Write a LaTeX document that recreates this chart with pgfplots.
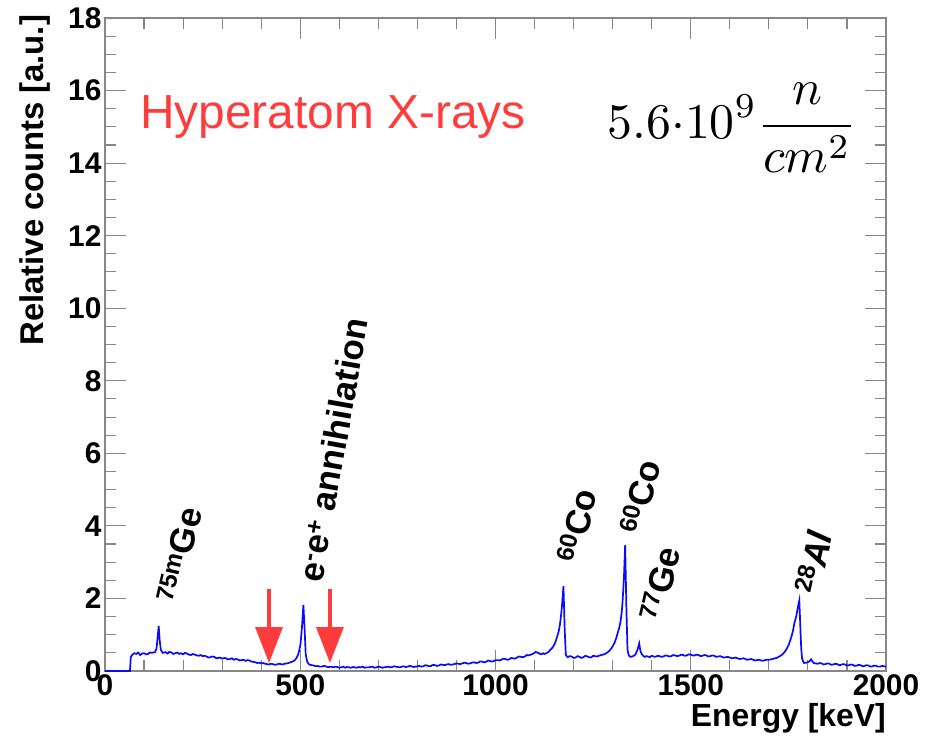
\documentclass[border=0pt]{standalone}
\usepackage{fontspec}
\setmainfont{Liberation Sans}
\usepackage{pgfplots}
\pgfplotsset{compat=1.18}
\usetikzlibrary{arrows.meta}
\definecolor{spec}{RGB}{10,10,255}
\definecolor{hyred}{RGB}{255,60,60}
\definecolor{frame}{RGB}{135,135,135}

\pgfplotstableread{
E y
0 0
64 0
66 0.38
70 0.45
75 0.49
80 0.47
85 0.51
90 0.44
95 0.48
100 0.49
105 0.46
110 0.47
115 0.51
120 0.50
128 0.52
132 0.62
135 0.95
137.5 1.24
140 0.85
143 0.58
148 0.50
155 0.52
160 0.48
165 0.53
170 0.51
175 0.47
180 0.49
185 0.51
190 0.47
195 0.49
200 0.46
205 0.50
210 0.48
215 0.45
220 0.44
225 0.47
230 0.45
235 0.43
240 0.42
245 0.44
250 0.41
255 0.42
260 0.40
265 0.37
270 0.38
275 0.40
280 0.39
285 0.35
290 0.36
295 0.37
300 0.34
305 0.36
310 0.35
315 0.32
320 0.33
325 0.35
330 0.31
335 0.33
340 0.32
345 0.29
350 0.30
355 0.31
360 0.28
365 0.30
370 0.29
375 0.26
380 0.25
385 0.24
390 0.22
395 0.23
400 0.21
405 0.22
410 0.20
415 0.19
420 0.18
425 0.20
430 0.19
435 0.17
440 0.18
445 0.20
450 0.19
455 0.18
460 0.20
465 0.21
470 0.22
475 0.24
480 0.26
485 0.29
490 0.35
494 0.44
497 0.55
500 0.70
502 0.90
505 1.30
508 1.82
511 1.20
514 0.45
518 0.25
522 0.19
525 0.17
530 0.16
535 0.15
540 0.13
545 0.14
550 0.12
555 0.12
560 0.14
565 0.13
570 0.11
575 0.11
580 0.12
585 0.10
590 0.12
595 0.11
600 0.09
605 0.10
610 0.12
615 0.09
620 0.11
625 0.10
630 0.09
635 0.11
640 0.10
645 0.09
650 0.11
655 0.10
660 0.12
665 0.09
670 0.10
675 0.10
680 0.11
685 0.12
690 0.09
695 0.10
700 0.12
705 0.11
710 0.09
715 0.10
720 0.11
725 0.12
730 0.10
735 0.11
740 0.13
745 0.12
750 0.11
755 0.10
760 0.12
765 0.13
770 0.11
775 0.12
780 0.14
785 0.13
790 0.11
795 0.12
800 0.13
805 0.14
810 0.12
815 0.13
820 0.16
825 0.15
830 0.13
835 0.14
840 0.17
845 0.16
850 0.14
855 0.15
860 0.18
865 0.17
870 0.16
875 0.18
880 0.19
885 0.17
890 0.18
895 0.19
900 0.21
905 0.20
910 0.19
915 0.21
920 0.23
925 0.22
930 0.20
935 0.21
940 0.23
945 0.24
950 0.22
955 0.23
960 0.26
965 0.26
970 0.24
975 0.25
980 0.28
985 0.28
990 0.26
995 0.27
1000 0.30
1005 0.30
1010 0.29
1015 0.31
1020 0.34
1025 0.33
1030 0.31
1035 0.32
1040 0.36
1045 0.35
1050 0.34
1055 0.37
1060 0.40
1065 0.39
1070 0.38
1075 0.40
1080 0.44
1085 0.43
1090 0.45
1095 0.47
1100 0.50
1103 0.53
1106 0.51
1110 0.50
1114 0.47
1118 0.46
1122 0.49
1125 0.47
1128 0.48
1132 0.50
1136 0.53
1140 0.58
1144 0.62
1148 0.68
1152 0.76
1155 0.85
1158 0.95
1162 1.10
1165 1.28
1167 1.45
1169 1.65
1171 1.90
1174 2.34
1176 1.60
1177 1.20
1179 0.70
1180 0.45
1183 0.40
1185 0.38
1190 0.41
1195 0.40
1200 0.36
1205 0.37
1210 0.41
1215 0.39
1220 0.36
1225 0.38
1230 0.42
1235 0.40
1240 0.38
1245 0.37
1250 0.42
1255 0.41
1260 0.40
1265 0.42
1270 0.44
1275 0.45
1280 0.47
1285 0.50
1290 0.54
1295 0.60
1300 0.68
1305 0.78
1309 0.90
1313 1.05
1317 1.20
1320 1.35
1323 1.60
1325 1.85
1327 2.20
1329 2.60
1332 3.47
1334 2.40
1335 1.80
1337 1.00
1338 0.60
1340 0.48
1342 0.42
1346 0.39
1350 0.40
1354 0.42
1358 0.45
1361 0.52
1364 0.60
1368 0.76
1370 0.62
1372 0.52
1375 0.46
1378 0.42
1382 0.39
1386 0.41
1390 0.40
1395 0.38
1400 0.42
1405 0.40
1410 0.39
1415 0.42
1420 0.41
1425 0.39
1430 0.40
1435 0.43
1440 0.42
1445 0.40
1450 0.41
1455 0.44
1460 0.43
1465 0.41
1470 0.42
1475 0.45
1480 0.44
1485 0.42
1490 0.43
1495 0.46
1500 0.45
1505 0.43
1510 0.43
1515 0.45
1520 0.44
1525 0.41
1530 0.42
1535 0.44
1540 0.43
1545 0.40
1550 0.41
1555 0.43
1560 0.42
1565 0.39
1570 0.40
1575 0.41
1580 0.39
1585 0.37
1590 0.38
1595 0.39
1600 0.37
1605 0.35
1610 0.36
1615 0.37
1620 0.35
1625 0.33
1630 0.34
1635 0.35
1640 0.33
1645 0.31
1650 0.32
1655 0.33
1660 0.31
1665 0.29
1670 0.30
1675 0.31
1680 0.29
1685 0.28
1690 0.30
1695 0.31
1700 0.31
1705 0.32
1710 0.33
1715 0.35
1720 0.36
1725 0.39
1730 0.42
1735 0.46
1740 0.52
1745 0.60
1750 0.70
1754 0.82
1758 0.95
1762 1.12
1765 1.30
1768 1.42
1771 1.55
1773 1.68
1775 1.80
1778 1.95
1780 1.40
1781 1.10
1783 0.60
1785 0.35
1788 0.26
1790 0.22
1795 0.23
1800 0.24
1804 0.27
1808 0.32
1811 0.27
1815 0.22
1820 0.21
1825 0.20
1830 0.22
1835 0.21
1840 0.18
1845 0.19
1850 0.21
1855 0.20
1860 0.17
1865 0.18
1870 0.20
1875 0.19
1880 0.16
1885 0.17
1890 0.19
1895 0.18
1900 0.15
1905 0.16
1910 0.18
1915 0.17
1920 0.14
1925 0.15
1930 0.17
1935 0.16
1940 0.13
1945 0.14
1950 0.16
1955 0.15
1960 0.12
1965 0.13
1970 0.15
1975 0.14
1980 0.12
1985 0.12
1990 0.14
1995 0.13
2000 0.12
}\spectrum

\newcommand{\lblfont}{\fontsize{35}{35}\selectfont\bfseries}

\begin{document}
\begin{tikzpicture}
\begin{axis}[
  scale only axis,
  width=781bp, height=653bp,
  xmin=0, xmax=2000, ymin=0, ymax=18,
  xtick={0,500,...,2000}, ytick={0,2,...,18},
  minor x tick num=4, minor y tick num=3,
  tick align=inside,
  major tick length=21bp, minor tick length=11bp,
  axis line style={frame, line width=1.3bp},
  tick style={frame, line width=1.1bp},
  ticklabel style={font=\fontsize{30}{30}\selectfont\bfseries},
  /pgf/number format/assume math mode=true,
  scaled ticks=false,
  xticklabel style={/pgf/number format/1000 sep={}},
  xlabel={Energy [keV]}, ylabel={Relative counts [a.u.]},
  label style={font=\fontsize{32}{32}\selectfont\bfseries},
  xlabel style={at={(axis description cs:1,-0.05)}, anchor=north east, inner sep=0pt},
  ylabel style={font=\fontsize{33}{33}\selectfont\bfseries,
    at={(axis description cs:-0.07,1.005)}, anchor=south east, inner sep=0pt},
  clip=false,
]
\addplot[spec, line width=1.7bp] table[x=E, y=y] {\spectrum};
\coordinate (O) at (rel axis cs:0,0);

\draw[hyred, line width=3.5bp, -{Triangle[width=27bp,length=36bp]}] (axis cs:420,2.25) -- (axis cs:420,0.22);
\draw[hyred, line width=3.5bp, -{Triangle[width=27bp,length=36bp]}] (axis cs:576,2.25) -- (axis cs:576,0.22);

\node[rotate=77, font=\lblfont] at (axis cs:190,3.2) {\textsuperscript{75m}Ge};
\node[rotate=80, font=\lblfont] at (axis cs:584,6.1) {e\textsuperscript{-}e\textsuperscript{+} annihilation};
\node[rotate=77, font=\lblfont] at (axis cs:1208,4.0) {\textsuperscript{60}Co};
\node[rotate=77, font=\lblfont] at (axis cs:1370,4.8) {\textsuperscript{60}Co};
\node[rotate=77, font=\lblfont] at (axis cs:1421,2.4) {\textsuperscript{77}Ge};
\node[rotate=77, font=\lblfont] at (axis cs:1814,3.0) {\textsuperscript{28}\textit{Al}};

\node[hyred, anchor=base west, inner sep=0pt, font=\fontsize{48}{48}\selectfont]
  at (axis cs:90,14.95) {Hyperatom X-rays};
\node[scale=5.0, inner sep=0pt] at (axis cs:1606,14.97)
  {$\displaystyle 5.6{\cdot}10^{9}\frac{n}{cm^{2}}$};
\end{axis}
\pgfresetboundingbox
\path ([shift={(-105bp,-74bp)}]O) rectangle ([shift={(824bp,671bp)}]O);
\end{tikzpicture}
\end{document}
